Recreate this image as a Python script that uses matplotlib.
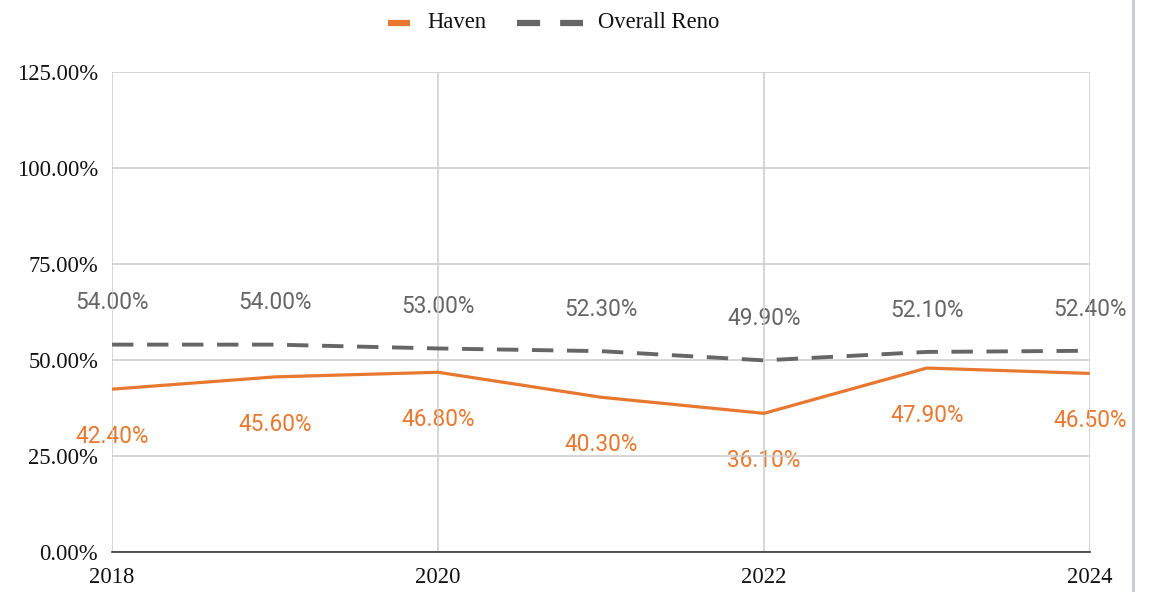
import matplotlib.pyplot as plt
from matplotlib.lines import Line2D
from matplotlib.ticker import FuncFormatter

years = [2018, 2019, 2020, 2021, 2022, 2023, 2024]
haven = [42.40, 45.60, 46.80, 40.30, 36.10, 47.90, 46.50]
reno = [54.00, 54.00, 53.00, 52.30, 49.90, 52.10, 52.40]
year_ticks = [2018, 2020, 2022, 2024]
pct_ticks = [0, 25, 50, 75, 100, 125]

orange = '#e8782f'
gray = '#666666'
serif = ['Liberation Serif', 'DejaVu Serif']
W, H = 1155, 592

fig = plt.figure(figsize=(W / 100, H / 100), dpi=100)
ax = fig.add_axes([0.097, 0.0676, 0.8466, 0.8108])

ax.plot(years, haven, color=orange, lw=2.3, solid_capstyle='butt', zorder=3, label='Haven')
ax.plot(years, reno, color=gray, lw=2.8, dashes=(5.5, 3.5), zorder=3, label='Overall Reno')

for x, v in zip(years, reno):
    ax.annotate(f'{v:.2f}%', (x, v), xytext=(0, 30), textcoords='offset points',
                ha='center', va='center', fontsize=16.3, color=gray,
                family='Roboto', zorder=1)
for x, v in zip(years, haven):
    ax.annotate(f'{v:.2f}%', (x, v), xytext=(0, -34), textcoords='offset points',
                ha='center', va='center', fontsize=16.3, color=orange,
                family='Roboto', zorder=1)

ax.set_xlim(2018, 2024)
ax.set_ylim(0, 125)
ax.set_xticks(year_ticks)
ax.set_yticks(pct_ticks)
ax.yaxis.set_major_formatter(FuncFormatter(lambda v, p: f'{v:.2f}%'))
ax.grid(True, color='#cccccc', lw=1.1)
ax.set_axisbelow('line')
for s in ['left', 'right', 'top']:
    ax.spines[s].set_visible(False)
ax.spines['bottom'].set_color('#333333')
ax.spines['bottom'].set_linewidth(1.2)
ax.tick_params(length=0, labelsize=16.3, colors='#111111')
ax.tick_params(axis='y', pad=10)
ax.tick_params(axis='x', pad=11)
for lab in ax.get_xticklabels() + ax.get_yticklabels():
    lab.set_family(serif)

# legend row at the top, laid out in pixel units
ly = 1 - 23 / H
fig.add_artist(Line2D([388 / W, 410 / W], [ly, ly], color=orange, lw=4.5,
                      solid_capstyle='butt'))
fig.text(427 / W, ly, 'Haven', ha='left', va='center', family=serif,
         fontsize=16.3, color='#111111')
fig.add_artist(Line2D([517 / W, 583 / W], [ly, ly], color=gray, lw=4.5,
                      dashes=(3.7, 3.2), solid_capstyle='butt'))
fig.text(598 / W, ly, 'Overall Reno', ha='left', va='center', family=serif,
         fontsize=16.3, color='#111111')

# thin frame edge on the right side of the canvas
fig.add_artist(Line2D([0.981, 0.981], [0, 1], color='#c8ced6', lw=2.2))

fig.savefig('out.png', dpi=100)
